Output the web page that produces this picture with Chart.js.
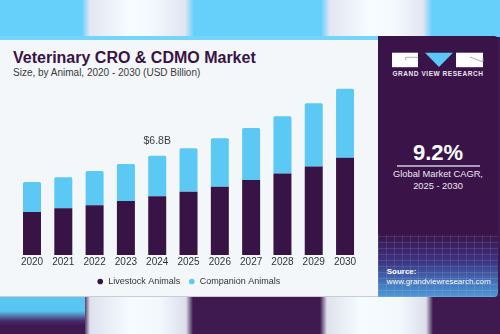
<!DOCTYPE html>
<html>
<head>
<meta charset="utf-8">
<script src="https://cdn.jsdelivr.net/npm/chart.js@4.4.1/dist/chart.umd.min.js"></script>
<style>
  body { margin:0; width:500px; height:334px; overflow:hidden; position:relative; font-family:'Liberation Sans', Arial, sans-serif; background:#3e1a51; }
  .abs { position:absolute; }
  #topband { left:0; top:0; width:500px; height:37px;
    background:linear-gradient(90deg,#66d0fb 0,#66d0fb 82px,#e3e6f3 90px,#f7fcff 130px,#f4f9fe 150px,#e2e5f2 185px,#66d0fb 194px,#66d0fb 321px,#e3e6f3 330px,#f7fcff 370px,#f4f9fe 395px,#e2e5f2 423px,#66d0fb 432px,#66d0fb 100%); }
  #botband { left:0; top:297px; width:500px; height:37px;
    background:linear-gradient(90deg,transparent 0,transparent 84px,#dfe2ee 90px,#f6fbfe 130px,#f3f8fd 160px,#dcdfeb 186px,#3e1a51 193px,#3e1a51 320px,#dfe2ee 327px,#f6fbfe 360px,#f3f8fd 400px,#dcdfeb 426px,#3e1a51 433px,#3e1a51 100%); }
  #botleft { left:0; top:297px; width:85px; height:37px; background:linear-gradient(180deg,#58c6f0 0,#58c6f0 14px,#4a2a6a 24px,#3e1a51 28px); }
  #card { left:0; top:36px; width:378px; height:261px; background:#f3f7fa; border-bottom:1px solid #c9ccd0; box-sizing:border-box; }
  #cardtop { left:0; top:36px; width:378px; height:4px; background:#74d4f9; }
  #title { left:13px; top:49.3px; font-size:16px; line-height:18px; font-weight:bold; color:#3a1346; white-space:nowrap; }
  #subtitle { left:13px; top:66.8px; font-size:10px; line-height:12px; color:#3a3a3a; white-space:nowrap; }
  #wrap { left:0; top:36px; width:377px; height:261px; }
  #panel { left:377.5px; top:36px; width:120.5px; height:261px; background:#3a1449; border-radius:0 4px 4px 0; overflow:hidden; }
  #grid { left:0; top:198px; width:121px; height:63px;
    background:
      repeating-linear-gradient(0deg,rgba(255,255,255,0.11) 0 1px,transparent 1px 6px),
      repeating-linear-gradient(90deg,rgba(255,255,255,0.09) 0 1px,transparent 1px 8px),
      linear-gradient(180deg,#3a1449 0%,#3b3583 45%,#4479bf 80%,#4f98d6 100%); }
  .ptxt { left:0; width:121px; text-align:center; color:#fff; white-space:nowrap; }
  #gvr { top:33.8px; font-size:6.5px; line-height:7px; font-weight:bold; letter-spacing:0.55px; color:#e9e5ef; }
  #cagr { top:103.5px; font-size:22px; line-height:26px; font-weight:bold; }
  #rule { left:19.5px; top:129.3px; width:83px; height:1.4px; background:#a99bba; }
  #cagrlbl { top:133px; font-size:9.3px; line-height:11.5px; color:#ece8f0; }
  #src { left:9.2px; top:231px; font-size:8px; line-height:10px; color:#fff; white-space:nowrap; }
</style>
</head>
<body>
<div id="topband" class="abs"></div>
<div id="botband" class="abs"></div>
<div id="botleft" class="abs"></div>
<div id="card" class="abs"></div>
<div id="cardtop" class="abs"></div>
<div id="title" class="abs">Veterinary CRO &amp; CDMO Market</div>
<div id="subtitle" class="abs">Size, by Animal, 2020 - 2030 (USD Billion)</div>
<div id="wrap" class="abs"><canvas id="chart"></canvas></div>
<div id="panel" class="abs">
  <div id="grid" class="abs"></div>
  <svg class="abs" style="left:14.5px;top:16px" width="92" height="16" viewBox="0 0 92 16">
    <rect x="0" y="0.7" width="26" height="14.5" fill="#fff"/>
    <polyline points="13.7,8 13.7,5.3 26,5.3" fill="none" stroke="#9a9a9a" stroke-width="0.8"/>
    <polygon points="33,0.7 61,0.7 47,15" fill="#5bc8f5"/>
    <rect x="64" y="0.7" width="27" height="14.5" fill="#fff"/>
    <polyline points="78,5 91,10 91,6" fill="none" stroke="#9a9a9a" stroke-width="0.8"/>
  </svg>
  <div id="gvr" class="abs ptxt">GRAND VIEW RESEARCH</div>
  <div id="cagr" class="abs ptxt">9.2%</div>
  <div id="rule" class="abs"></div>
  <div id="cagrlbl" class="abs ptxt">Global Market CAGR,<br>2025 - 2030</div>
  <div id="src" class="abs"><b>Source:</b><br>www.grandviewresearch.com</div>
</div>
<script>
const years = ['2020','2021','2022','2023','2024','2025','2026','2027','2028','2029','2030'];
const livestock = [2.94, 3.20, 3.40, 3.70, 4.02, 4.34, 4.68, 5.14, 5.59, 6.07, 6.66];
const companion = [2.06, 2.12, 2.35, 2.53, 2.78, 2.97, 3.31, 3.56, 3.91, 4.32, 4.73];
const seriesNames = ['Livestock Animals', 'Companion Animals'];
const calloutIdx = 4;

const font = "'Liberation Sans', Arial, sans-serif";

const callout = {
  id: 'callout',
  afterDatasetsDraw(chart){
    const bar = chart.getDatasetMeta(1).data[calloutIdx];
    const total = livestock[calloutIdx] + companion[calloutIdx];
    const ctx = chart.ctx;
    ctx.save();
    ctx.font = '10.5px ' + font;
    ctx.fillStyle = '#3a3a3a';
    ctx.textAlign = 'center';
    ctx.textBaseline = 'middle';
    ctx.fillText('$' + total.toFixed(1) + 'B', bar.x, bar.y - 14.5);
    ctx.restore();
  }
};

new Chart(document.getElementById('chart'), {
  type: 'bar',
  data: {
    labels: years,
    datasets: [
      { label: seriesNames[0], data: livestock, backgroundColor: '#381446', barPercentage: 0.575, categoryPercentage: 1 },
      { label: seriesNames[1], data: companion, backgroundColor: '#5cc9f5', barPercentage: 0.575, categoryPercentage: 1,
        borderRadius: { topLeft: 1.5, topRight: 1.5 }, borderSkipped: 'bottom' }
    ]
  },
  options: {
    responsive: true,
    maintainAspectRatio: false,
    animation: false,
    layout: { padding: { left: 16.35, right: 16.3, top: 43.8, bottom: 1 } },
    scales: {
      x: { stacked: true, grid: { display: false, drawTicks: false }, border: { display: false },
           ticks: { padding: 1, color: '#333', font: { family: font, size: 10, lineHeight: 1.2 } } },
      y: { stacked: true, display: false, min: 0, max: 12 }
    },
    plugins: {
      legend: { position: 'bottom',
        labels: { usePointStyle: true, pointStyle: 'circle', boxWidth: 7, boxHeight: 4, padding: 8,
                  color: '#333', font: { family: font, size: 9 } } },
      tooltip: { enabled: false }
    }
  },
  plugins: [callout]
});
</script>
</body>
</html>
